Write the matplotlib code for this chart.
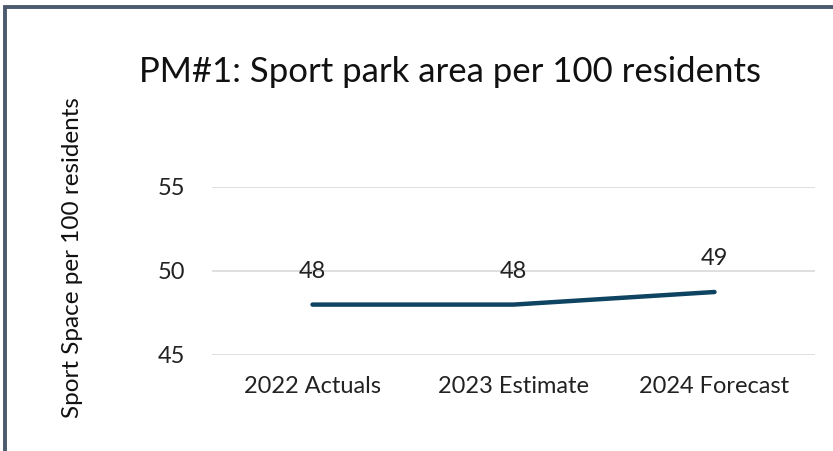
import matplotlib.pyplot as plt
from matplotlib.patches import Rectangle

categories = ["2022 Actuals", "2023 Estimate", "2024 Forecast"]
values = [48.0, 48.0, 48.75]
value_labels = ["48", "48", "49"]
yticks = [45, 50, 55]

plt.rcParams["font.family"] = ["Lato", "DejaVu Sans"]

W, H = 833, 451
fig = plt.figure(figsize=(W / 100, H / 100), dpi=100)

# frame around the chart (cut off at right and bottom)
fig.patches.append(Rectangle((5 / W, -0.1), 1.2, (H - 7) / H + 0.1,
                             transform=fig.transFigure, fill=False,
                             edgecolor="#4b5a6e", linewidth=2.8))

ax = fig.add_axes([212 / W, 1 - 355 / H, (815 - 212) / W, (355 - 187) / H])

x = list(range(len(categories)))
ax.plot(x, values, color="#0e4461", linewidth=3.2, solid_capstyle="round")
for xi, v, lab in zip(x, values, value_labels):
    ax.annotate(lab, (xi, v), xytext=(0, 24), textcoords="offset points",
                ha="center", va="center", fontsize=17, color="#222222")

ax.set_xlim(-0.5, 2.5)
ax.set_ylim(45, 55)
ax.set_yticks(yticks)
ax.set_xticks(x)
ax.set_xticklabels(categories)
ax.grid(axis="y", color="#d9d9d9", linewidth=1.2)
ax.set_axisbelow(True)
for s in ax.spines.values():
    s.set_visible(False)
ax.tick_params(axis="both", length=0, labelsize=17, colors="#222222")
ax.tick_params(axis="y", pad=19)
ax.tick_params(axis="x", pad=15)

fig.text(450 / W, 1 - 72 / H, "PM#1: Sport park area per 100 residents",
         ha="center", va="center", fontsize=25, color="#111111")
fig.text(73 / W, 1 - 258 / H, "Sport Space per 100 residents", rotation=90,
         ha="center", va="center", fontsize=17.5, color="#111111")

fig.savefig("out.png", dpi=100)
